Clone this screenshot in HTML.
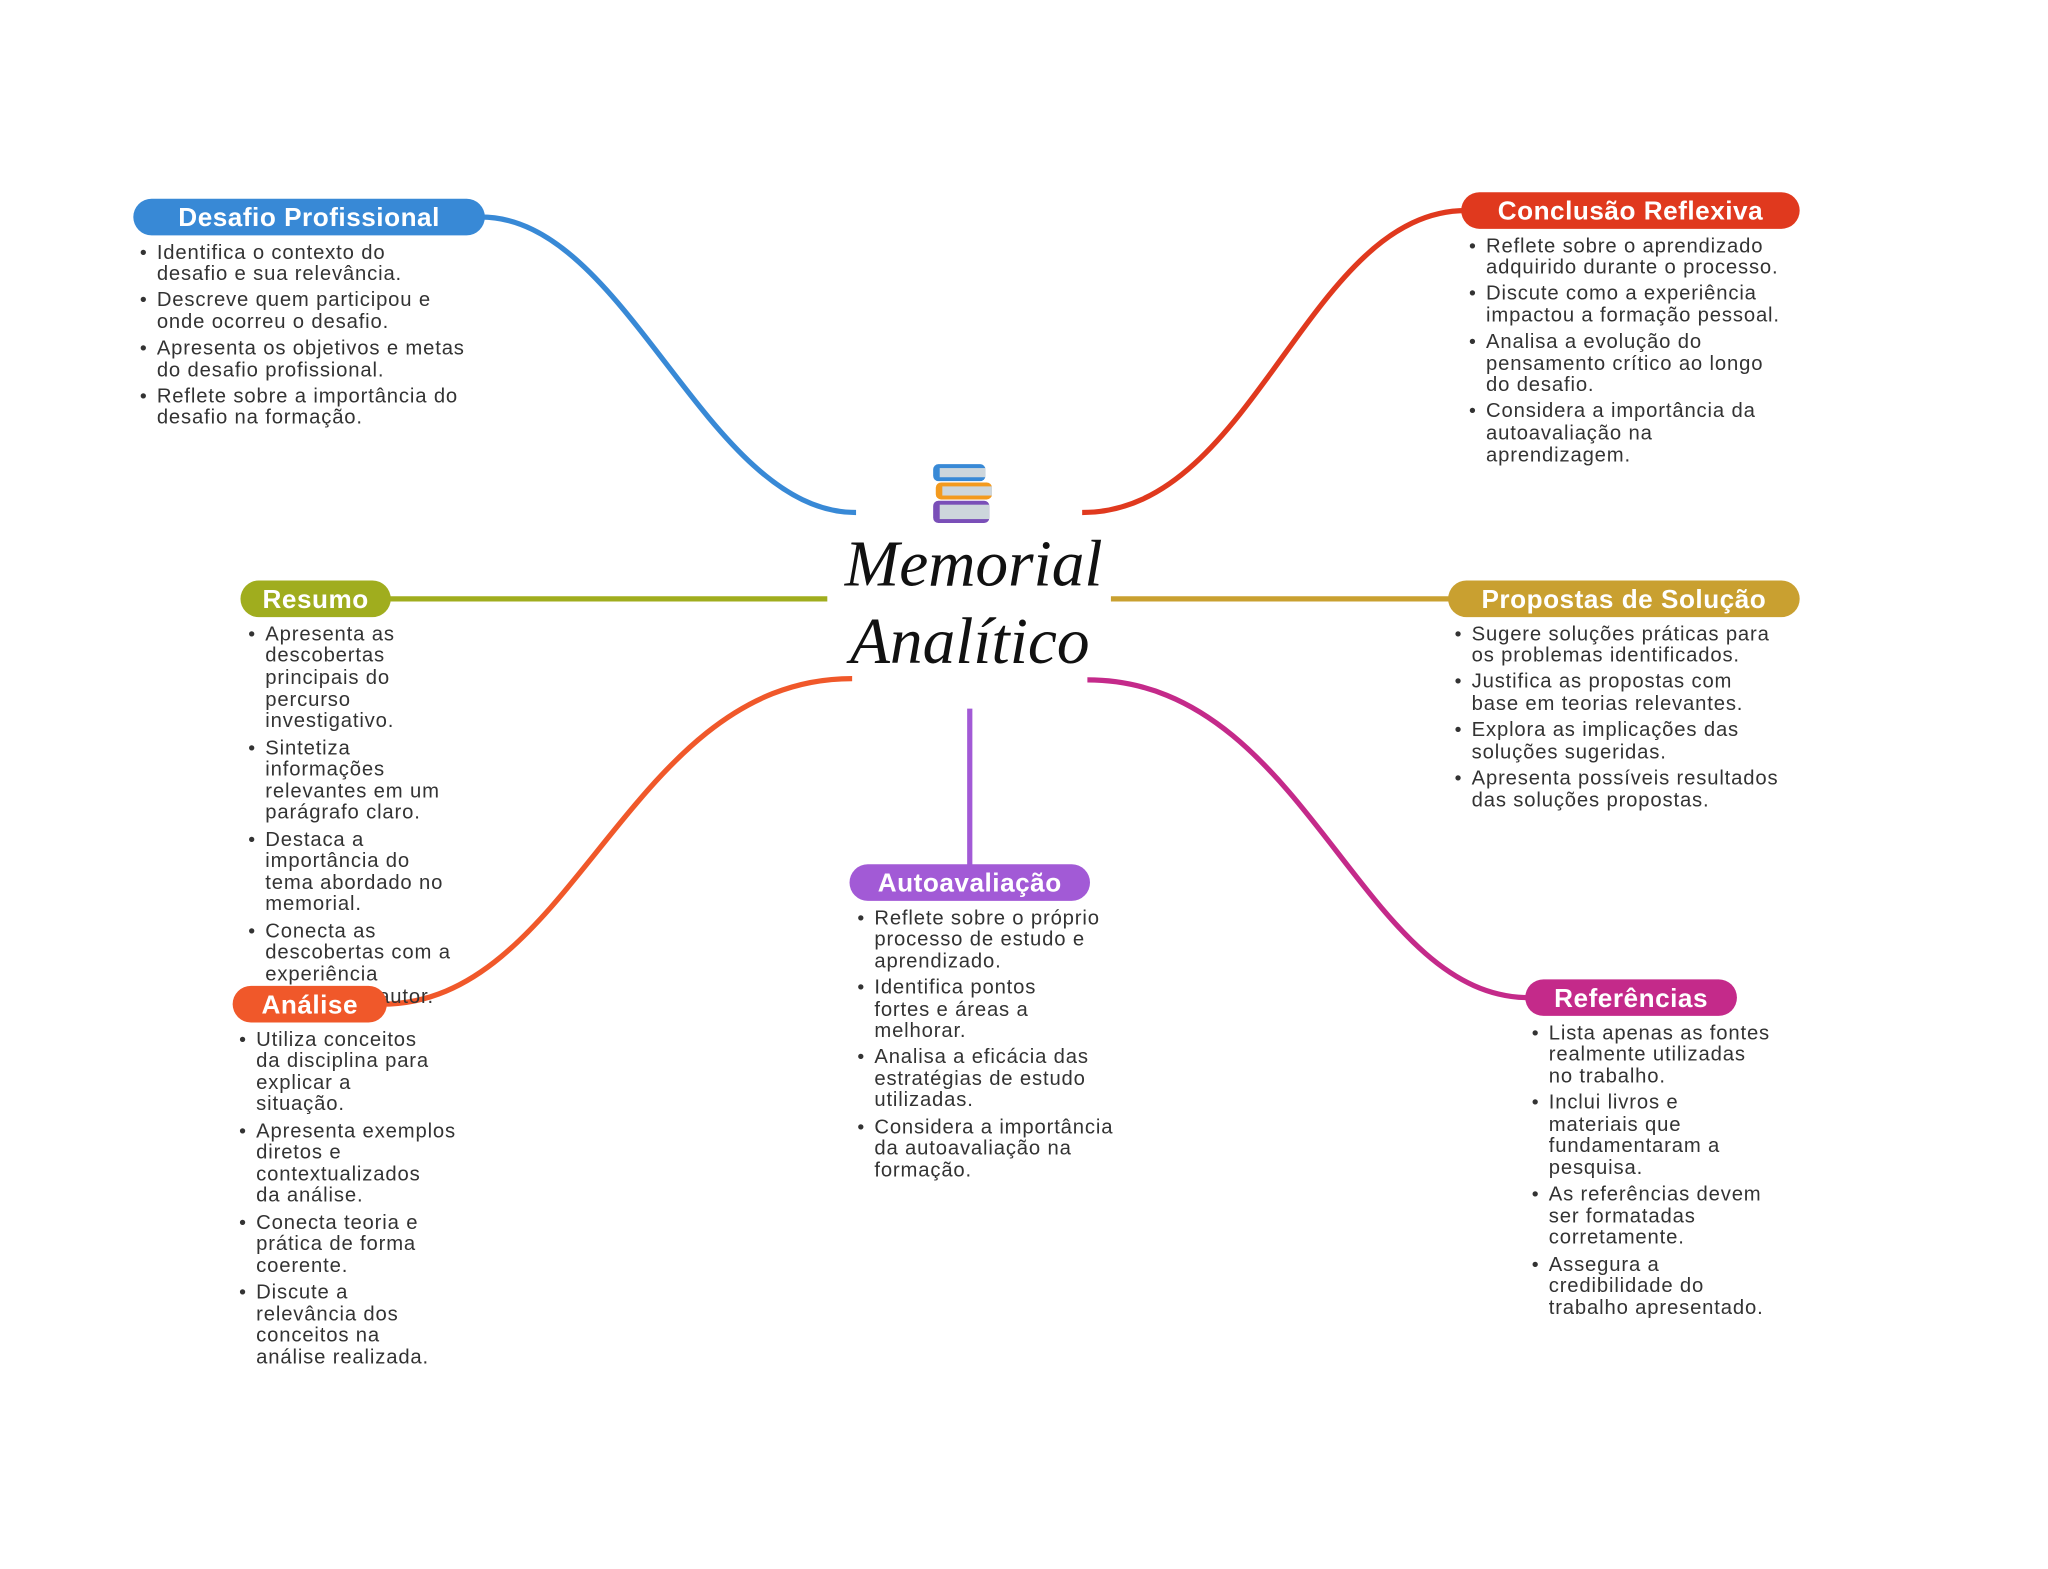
<!DOCTYPE html>
<html><head><meta charset="utf-8"><style>
html,body{margin:0;padding:0;background:#fff;}
svg{display:block;}
.t{font-family:"Liberation Sans",sans-serif;font-size:15.5px;fill:#333;letter-spacing:0.65px;}
.b{font-family:"Liberation Sans",sans-serif;font-size:15px;fill:#333;}
.h{font-family:"Liberation Sans",sans-serif;font-size:20px;font-weight:bold;fill:#fff;text-anchor:middle;letter-spacing:0.4px;}
.c{font-family:"Liberation Serif",serif;font-style:italic;font-size:50px;fill:#111;text-anchor:middle;}
</style></head><body>
<svg width="2048" height="1569" viewBox="0 0 1567 1200" preserveAspectRatio="none" xmlns="http://www.w3.org/2000/svg">
<g fill="none" stroke-width="4">
<path d="M368,166 C480,166 540,392 655,392" stroke="#3889d6"/>
<path d="M828,392 C960,392 1000,161 1122,161" stroke="#e0391e"/>
<path d="M296,458 L633,458" stroke="#a0ad1e"/>
<path d="M850,458 L1110,458" stroke="#c9a030"/>
<path d="M652,519 C480,519 440,768 292,768" stroke="#f0582a"/>
<path d="M742,542 L742,663" stroke="#a25ad6"/>
<path d="M832,520 C1000,520 1040,763 1170,763" stroke="#c42a8a"/>
</g>
<rect x="714" y="355" width="40" height="13" rx="4" fill="#3889d6"/><rect x="719" y="358" width="35" height="7" fill="#cdd6dc"/>
<rect x="716" y="369" width="43" height="13" rx="4" fill="#f39a1e"/><rect x="721" y="372" width="38" height="7" fill="#cdd6dc"/>
<rect x="714" y="383" width="43" height="17" rx="4" fill="#7a4fb8"/><rect x="719" y="386" width="38" height="11" fill="#cdd6dc"/>
<text class="c" x="745" y="448">Memorial</text>
<text class="c" x="742" y="507">Analítico</text>
<rect x="102" y="152" width="269" height="28" rx="14" fill="#3889d6"/><text class="h" x="236.5" y="173">Desafio Profissional</text>
<rect x="1118" y="147" width="259" height="28" rx="14" fill="#e0391e"/><text class="h" x="1247.5" y="168">Conclusão Reflexiva</text>
<rect x="184" y="444" width="115" height="28" rx="14" fill="#a0ad1e"/><text class="h" x="241.5" y="465">Resumo</text>
<rect x="1108" y="444" width="269" height="28" rx="14" fill="#c9a030"/><text class="h" x="1242.5" y="465">Propostas de Solução</text>
<rect x="650" y="661" width="184" height="28" rx="14" fill="#a25ad6"/><text class="h" x="742" y="682">Autoavaliação</text>
<rect x="1167" y="749" width="162" height="28" rx="14" fill="#c42a8a"/><text class="h" x="1248" y="770">Referências</text>
<g class="t">
<text x="120" y="198">Identifica o contexto do</text><text x="120" y="214">desafio e sua relevância.</text>
<text x="120" y="234">Descreve quem participou e</text><text x="120" y="251">onde ocorreu o desafio.</text>
<text x="120" y="271">Apresenta os objetivos e metas</text><text x="120" y="288">do desafio profissional.</text>
<text x="120" y="308">Reflete sobre a importância do</text><text x="120" y="324">desafio na formação.</text>
</g>
<g class="b"><text x="107" y="198">•</text><text x="107" y="234">•</text><text x="107" y="271">•</text><text x="107" y="308">•</text></g>
<g class="t">
<text x="1137" y="193">Reflete sobre o aprendizado</text><text x="1137" y="209">adquirido durante o processo.</text>
<text x="1137" y="229">Discute como a experiência</text><text x="1137" y="246">impactou a formação pessoal.</text>
<text x="1137" y="266">Analisa a evolução do</text><text x="1137" y="283">pensamento crítico ao longo</text><text x="1137" y="299">do desafio.</text>
<text x="1137" y="319">Considera a importância da</text><text x="1137" y="336">autoavaliação na</text><text x="1137" y="353">aprendizagem.</text>
</g>
<g class="b"><text x="1124" y="193">•</text><text x="1124" y="229">•</text><text x="1124" y="266">•</text><text x="1124" y="319">•</text></g>
<g class="t">
<text x="1126" y="490">Sugere soluções práticas para</text><text x="1126" y="506">os problemas identificados.</text>
<text x="1126" y="526">Justifica as propostas com</text><text x="1126" y="543">base em teorias relevantes.</text>
<text x="1126" y="563">Explora as implicações das</text><text x="1126" y="580">soluções sugeridas.</text>
<text x="1126" y="600">Apresenta possíveis resultados</text><text x="1126" y="617">das soluções propostas.</text>
</g>
<g class="b"><text x="1113" y="490">•</text><text x="1113" y="526">•</text><text x="1113" y="563">•</text><text x="1113" y="600">•</text></g>
<g class="t">
<text x="203" y="490">Apresenta as</text><text x="203" y="506">descobertas</text><text x="203" y="523">principais do</text><text x="203" y="540">percurso</text><text x="203" y="556">investigativo.</text>
<text x="203" y="577">Sintetiza</text><text x="203" y="593">informações</text><text x="203" y="610">relevantes em um</text><text x="203" y="626">parágrafo claro.</text>
<text x="203" y="647">Destaca a</text><text x="203" y="663">importância do</text><text x="203" y="680">tema abordado no</text><text x="203" y="696">memorial.</text>
<text x="203" y="717">Conecta as</text><text x="203" y="733">descobertas com a</text><text x="203" y="750">experiência</text><text x="203" y="767">pessoal do autor.</text>
</g>
<g class="b"><text x="190" y="490">•</text><text x="190" y="577">•</text><text x="190" y="647">•</text><text x="190" y="717">•</text></g>
<rect x="178" y="754" width="118" height="28" rx="14" fill="#f0582a"/><text class="h" x="237" y="775">Análise</text>
<g class="t">
<text x="196" y="800">Utiliza conceitos</text><text x="196" y="816">da disciplina para</text><text x="196" y="833">explicar a</text><text x="196" y="849">situação.</text>
<text x="196" y="870">Apresenta exemplos</text><text x="196" y="886">diretos e</text><text x="196" y="903">contextualizados</text><text x="196" y="919">da análise.</text>
<text x="196" y="940">Conecta teoria e</text><text x="196" y="956">prática de forma</text><text x="196" y="973">coerente.</text>
<text x="196" y="993">Discute a</text><text x="196" y="1010">relevância dos</text><text x="196" y="1026">conceitos na</text><text x="196" y="1043">análise realizada.</text>
</g>
<g class="b"><text x="183" y="800">•</text><text x="183" y="870">•</text><text x="183" y="940">•</text><text x="183" y="993">•</text></g>
<g class="t">
<text x="669" y="707">Reflete sobre o próprio</text><text x="669" y="723">processo de estudo e</text><text x="669" y="740">aprendizado.</text>
<text x="669" y="760">Identifica pontos</text><text x="669" y="777">fortes e áreas a</text><text x="669" y="793">melhorar.</text>
<text x="669" y="813">Analisa a eficácia das</text><text x="669" y="830">estratégias de estudo</text><text x="669" y="846">utilizadas.</text>
<text x="669" y="867">Considera a importância</text><text x="669" y="883">da autoavaliação na</text><text x="669" y="900">formação.</text>
</g>
<g class="b"><text x="656" y="707">•</text><text x="656" y="760">•</text><text x="656" y="813">•</text><text x="656" y="867">•</text></g>
<g class="t">
<text x="1185" y="795">Lista apenas as fontes</text><text x="1185" y="811">realmente utilizadas</text><text x="1185" y="828">no trabalho.</text>
<text x="1185" y="848">Inclui livros e</text><text x="1185" y="865">materiais que</text><text x="1185" y="881">fundamentaram a</text><text x="1185" y="898">pesquisa.</text>
<text x="1185" y="918">As referências devem</text><text x="1185" y="935">ser formatadas</text><text x="1185" y="951">corretamente.</text>
<text x="1185" y="972">Assegura a</text><text x="1185" y="988">credibilidade do</text><text x="1185" y="1005">trabalho apresentado.</text>
</g>
<g class="b"><text x="1172" y="795">•</text><text x="1172" y="848">•</text><text x="1172" y="918">•</text><text x="1172" y="972">•</text></g>
</svg>
</body></html>
